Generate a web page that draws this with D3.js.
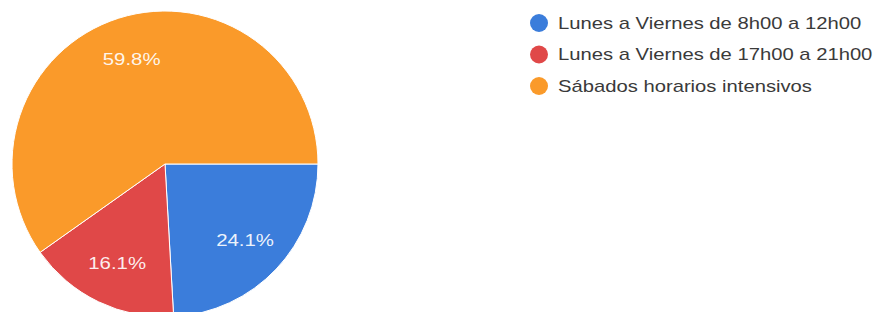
<!DOCTYPE html>
<html><head><meta charset="utf-8">
<script src="https://cdn.jsdelivr.net/npm/d3@7"></script>
<style>body{margin:0;background:#fff;}svg{display:block;}</style>
</head><body>
<svg id="c" width="880" height="312"></svg>
<script>
const categories = ["Lunes a Viernes de 8h00 a 12h00","Lunes a Viernes de 17h00 a 21h00","Sábados horarios intensivos"];
const values = [24.1, 16.1, 59.8];
const labels = ["24.1%","16.1%","59.8%"];
const colors = ["#3b7ddb","#e04848","#fa9a2a"];

const svg = d3.select("#c");
const cx = 165, cy = 164, r = 153;
const pie = d3.pie().sort(null).value(d => d).startAngle(Math.PI/2).endAngle(Math.PI/2 + 2*Math.PI);
const arcs = pie(values);
const arc = d3.arc().innerRadius(0).outerRadius(r);
const labelArc = d3.arc().innerRadius(r*0.72).outerRadius(r*0.72);
const g = svg.append("g").attr("transform", `translate(${cx},${cy})`);
g.selectAll("path").data(arcs).join("path")
  .attr("d", arc).attr("fill", (d,i) => colors[i])
  .attr("stroke", "#fff").attr("stroke-width", 1);
g.selectAll("text").data(arcs).join("text")
  .attr("transform", d => `translate(${labelArc.centroid(d)}) scale(1.2,1)`)
  .attr("text-anchor", "middle").attr("dy", "0.35em")
  .attr("fill", "#fff").attr("fill-opacity", 0.92)
  .attr("font-family", "Liberation Sans, Arial, sans-serif")
  .attr("font-size", 17)
  .text((d,i) => labels[i]);

const y = d3.scalePoint().domain(categories).range([23, 86]);
const lg = svg.append("g");
const items = lg.selectAll("g").data(categories).join("g")
  .attr("transform", d => `translate(539,${y(d)})`);
items.append("circle").attr("r", 9).attr("fill", (d,i) => colors[i]);
items.append("text").attr("transform", "translate(19,0) scale(1.19,1)").attr("dy", "0.35em")
  .attr("fill", "#3a3a3a").attr("font-family", "Liberation Sans, Arial, sans-serif")
  .attr("font-size", 17).text(d => d);
</script>
</body></html>
